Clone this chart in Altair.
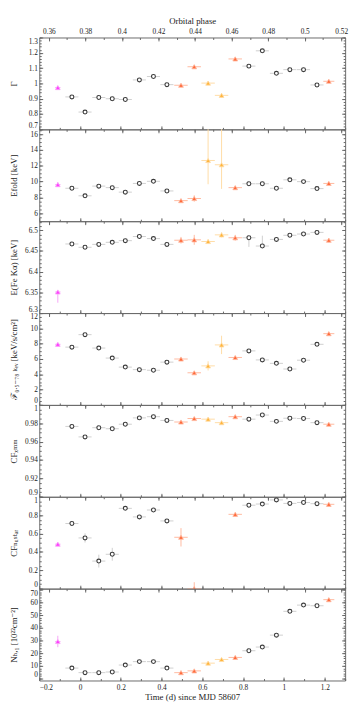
import altair as alt
import pandas as pd

# ---------------- data ----------------
P_ORB = 8.964357
PHI0 = 0.3771
T_DOMAIN = [-0.2, 1.3]
PH_DOMAIN = [PHI0 + T_DOMAIN[0] / P_ORB, PHI0 + T_DOMAIN[1] / P_ORB]

time = [-0.109, -0.040, 0.0245, 0.092, 0.158, 0.222, 0.291, 0.360, 0.426, 0.495,
        0.560, 0.628, 0.694, 0.761, 0.828, 0.894, 0.963, 1.029, 1.096, 1.162, 1.220]
time_err = [0.013, 0.032, 0.032, 0.032, 0.032, 0.032, 0.032, 0.032, 0.032, 0.033,
            0.033, 0.033, 0.033, 0.033, 0.032, 0.032, 0.032, 0.032, 0.032, 0.032, 0.027]
group = ["magenta"] + ["black"] * 8 + ["orange", "orange", "yellow", "yellow", "orange"] \
        + ["black"] * 6 + ["orange"]

gamma = [0.973, 0.912, 0.813, 0.908, 0.900, 0.895, 1.023, 1.045, 0.992, 0.988, 1.109,
         1.002, 0.922, 1.160, 1.113, 1.213, 1.066, 1.090, 1.090, 0.990, 1.014]
gamma_lo = [0.010, 0.006, 0.006, 0.006, 0.006, 0.006, 0.006, 0.006, 0.006, 0.010, 0.012,
            0.012, 0.014, 0.010, 0.006, 0.006, 0.006, 0.008, 0.008, 0.006, 0.010]
gamma_hi = gamma_lo

efold = [9.62, 9.16, 8.21, 9.43, 9.24, 8.67, 9.77, 10.04, 8.82, 7.60, 7.87,
         12.67, 12.13, 9.24, 9.73, 9.73, 9.16, 10.23, 10.00, 9.12, 9.77]
efold_lo = [0.30, 0.15, 0.15, 0.15, 0.15, 0.15, 0.15, 0.15, 0.15, 0.20, 0.40,
            3.00, 3.05, 0.20, 0.15, 0.15, 0.15, 0.15, 0.15, 0.15, 0.15]
efold_hi = [0.30, 0.15, 0.15, 0.15, 0.15, 0.15, 0.15, 0.15, 0.15, 0.20, 0.40,
            4.50, 5.00, 0.20, 0.15, 0.15, 0.15, 0.15, 0.15, 0.15, 0.15]

efe = [6.351, 6.467, 6.459, 6.466, 6.471, 6.475, 6.485, 6.480, 6.466, 6.476, 6.477,
       6.473, 6.489, 6.482, 6.482, 6.462, 6.478, 6.488, 6.491, 6.495, 6.476]
efe_lo = [0.026, 0.003, 0.003, 0.003, 0.003, 0.003, 0.003, 0.003, 0.006, 0.008, 0.012,
          0.005, 0.006, 0.007, 0.022, 0.004, 0.005, 0.004, 0.003, 0.003, 0.005]
efe_hi = [0.004, 0.003, 0.003, 0.003, 0.003, 0.003, 0.003, 0.003, 0.006, 0.008, 0.012,
          0.005, 0.006, 0.007, 0.004, 0.025, 0.005, 0.004, 0.003, 0.003, 0.005]

flux = [7.92, 7.55, 9.18, 7.43, 6.12, 4.94, 4.61, 4.53, 5.59, 6.00, 4.20,
        5.10, 7.84, 6.20, 7.06, 5.88, 5.43, 4.69, 5.84, 7.92, 9.31]
flux_lo = [0.15, 0.10, 0.10, 0.10, 0.10, 0.10, 0.10, 0.10, 0.10, 0.15, 0.20,
           0.60, 1.20, 0.15, 0.10, 0.10, 0.10, 0.10, 0.10, 0.10, 0.15]
flux_hi = flux_lo

cf_xmm = [None, 0.9766, 0.9652, 0.9752, 0.9741, 0.9790, 0.9859, 0.9872, 0.9831, 0.9814,
          0.9852, 0.9845, 0.9807, 0.9872, 0.9845, 0.9890, 0.9821, 0.9855, 0.9852, 0.9807, 0.9790]
cf_xmm_lo = [None] + [0.0006] * 20
cf_xmm_hi = cf_xmm_lo

cf_nu = [0.484, 0.709, 0.552, 0.300, 0.374, 0.874, 0.781, 0.856, 0.737, 0.559, 0.000,
         None, None, 0.809, 0.908, 0.921, 0.966, 0.928, 0.938, 0.925, 0.918]
cf_nu_lo = [0.015, 0.020, 0.050, 0.070, 0.070, 0.015, 0.015, 0.015, 0.020, 0.100, 0.070,
            None, None, 0.020, 0.015, 0.015, 0.015, 0.015, 0.015, 0.015, 0.015]
cf_nu_hi = cf_nu_lo

nh = [29.3, 8.3, 4.7, 4.7, 5.2, 10.7, 13.4, 13.4, 8.3, 4.7, 6.1,
      12.2, 15.1, 16.7, 22.0, 24.9, 34.3, 53.1, 58.0, 57.5, 62.3]
nh_lo = [4.5, 0.6, 0.5, 0.5, 0.5, 0.6, 0.6, 0.6, 0.6, 0.5, 0.6,
         0.8, 0.8, 0.8, 0.8, 0.8, 0.9, 1.0, 1.0, 1.0, 1.0]
nh_hi = nh_lo

# ---------------- styles ----------------
MARK_COLOR = {"magenta": "#ff3cff", "orange": "#ff6a3a", "yellow": "#ffb43c", "black": "#3a3a3a"}
ERR_COLOR = {"magenta": "#f7a6f7", "orange": "#ffb9a0", "yellow": "#ffdca6", "black": "#cfcfcf"}
FONT = "Liberation Serif, DejaVu Serif"
W, H = 313, 94
TICK = 3.5
MINOR = 2
LBL = "format(datum.value, '~g')"


def steps(a, b, s):
    n = int(round((b - a) / s))
    return [round(a + s * i, 6) for i in range(n + 1)]


time_major = steps(-0.2, 1.2, 0.2)
time_minor = steps(-0.1, 1.3, 0.1)
phase_major = steps(0.36, 0.52, 0.02)
phase_minor = steps(0.35, 0.53, 0.01)


def axis(values, orient, size, labels=False, title=None, **kw):
    return alt.Axis(values=values, orient=orient, offset=-size, tickSize=size, domain=False,
                    grid=False, labels=labels, title=title, labelOverlap=False,
                    labelColor="#222222", tickColor="#666666", **kw)


def dummy(xfield, xdom, ydom, xaxis, yaxis):
    df = pd.DataFrame({xfield: xdom, "yy": ydom})
    return alt.Chart(df).mark_point(opacity=0).encode(
        x=alt.X(f"{xfield}:Q", scale=alt.Scale(domain=xdom, nice=False, zero=False), axis=xaxis),
        y=alt.Y("yy:Q", scale=alt.Scale(domain=ydom, nice=False, zero=False), axis=yaxis))


def panel(vals, lo, hi, domain, yticks, yminor, title, top=False, bottom=False):
    df = pd.DataFrame({"t": time, "xerr": time_err, "group": group,
                       "v": vals, "elo": lo, "ehi": hi}).dropna(subset=["v"])
    df["t0"] = df["t"] - df["xerr"]
    df["t1"] = df["t"] + df["xerr"]
    df["lo"] = df["v"] - df["elo"]
    df["hi"] = df["v"] + df["ehi"]
    df["mcol"] = df["group"].map(MARK_COLOR)
    df["ecol"] = df["group"].map(ERR_COLOR)

    xscale = alt.Scale(domain=T_DOMAIN, nice=False, zero=False)
    yscale = alt.Scale(domain=domain, nice=False, zero=False)
    xaxis = axis(time_major, "bottom", TICK, labels=bottom,
                 title="Time (d) since MJD 58607" if bottom else None,
                 labelExpr=LBL, labelPadding=3, titlePadding=2)
    yaxis = axis(yticks, "left", TICK, labels=True, title=title, labelExpr=LBL,
                 labelPadding=2, labelFlush=2, titleX=-25, titleY=H / 2,
                 titleBaseline="bottom", titleAlign="center")

    base = alt.Chart(df)
    xerr = base.mark_rule(clip=True, strokeWidth=1).encode(
        x=alt.X("t0:Q", scale=xscale, axis=xaxis), x2="t1:Q",
        y=alt.Y("v:Q", scale=yscale, axis=yaxis),
        color=alt.Color("ecol:N", scale=None))
    yerr = base.mark_rule(clip=True, strokeWidth=1).encode(
        x=alt.X("t:Q", scale=xscale, axis=xaxis),
        y=alt.Y("lo:Q", scale=yscale, axis=yaxis), y2="hi:Q",
        color=alt.Color("ecol:N", scale=None))
    circ = base.transform_filter(alt.datum.group == "black").mark_point(
        shape="circle", filled=True, fill="white", stroke="#3a3a3a", strokeWidth=1.1,
        size=16, opacity=1, clip=True).encode(
        x=alt.X("t:Q", scale=xscale, axis=xaxis),
        y=alt.Y("v:Q", scale=yscale, axis=yaxis))
    tri = base.transform_filter(alt.datum.group != "black").mark_point(
        shape="triangle-up", filled=True, size=24, opacity=1, strokeWidth=0.8,
        clip=True).encode(
        x=alt.X("t:Q", scale=xscale, axis=xaxis),
        y=alt.Y("v:Q", scale=yscale, axis=yaxis),
        fill=alt.Fill("mcol:N", scale=None),
        stroke=alt.Stroke("ecol:N", scale=None))
    data_layer = alt.layer(xerr, yerr, circ, tri)

    minor_layer = dummy("tm", T_DOMAIN, domain,
                        axis(time_minor, "bottom", MINOR), axis(yminor, "left", MINOR))
    top_layer = dummy("ph", PH_DOMAIN, domain,
                      axis(phase_major, "top", TICK, labels=top,
                           title="Orbital phase" if top else None,
                           labelExpr=LBL, labelPadding=2, titlePadding=2),
                      axis(yticks, "right", TICK))
    top_minor_layer = dummy("pm", PH_DOMAIN, domain,
                            axis(phase_minor, "top", MINOR), axis(yminor, "right", MINOR))

    return alt.layer(data_layer, minor_layer, top_layer, top_minor_layer).resolve_scale(
        x="independent").resolve_axis(x="independent", y="independent").properties(
        width=W, height=H)


panels = [
    panel(gamma, gamma_lo, gamma_hi, [0.7, 1.3], steps(0.7, 1.3, 0.1), steps(0.7, 1.3, 0.02),
          "Γ", top=True),
    panel(efold, efold_lo, efold_hi, [5.0, 16.6], steps(6, 16, 2), steps(5, 16.5, 0.5),
          "Efold [keV]"),
    panel(efe, efe_lo, efe_hi, [6.30, 6.522], steps(6.3, 6.5, 0.05), steps(6.3, 6.52, 0.01),
          "E(Fe Kα) [keV]"),
    panel(flux, flux_lo, flux_hi, [0, 12], steps(0, 12, 2), steps(0, 12, 0.5),
          "ℱ₀.₅₋₇₈ ₖₑᵥ [keV/s/cm²]"),
    panel(cf_xmm, cf_xmm_lo, cf_xmm_hi, [0.9, 1.0], steps(0.9, 1.0, 0.02), steps(0.9, 1.0, 0.005),
          "CFₓₘₘ"),
    panel(cf_nu, cf_nu_lo, cf_nu_hi, [0, 1.0], steps(0, 1.0, 0.2), steps(0, 1.0, 0.05),
          "CFₙᵤₛₜₐᵣ"),
    panel(nh, nh_lo, nh_hi, [-1.5, 71], steps(0, 70, 10), steps(0, 70, 2),
          "Nₕ,₁ [10²²cm⁻²]", bottom=True),
]

chart = alt.vconcat(*panels, spacing=0, bounds="flush").resolve_scale(
    x="independent", y="independent").properties(
    padding={"left": 0, "top": 0, "right": 2, "bottom": 0}
).configure_view(stroke="#6a6a6a", strokeWidth=1).configure_axis(
    labelFont=FONT, titleFont=FONT, labelFontSize=7.5, titleFontSize=9,
    titleFontWeight="normal", tickColor="#666666", labelColor="#222222", titleColor="#222222"
)

chart.save("out.html", embed_options={"renderer": "svg", "actions": False})
